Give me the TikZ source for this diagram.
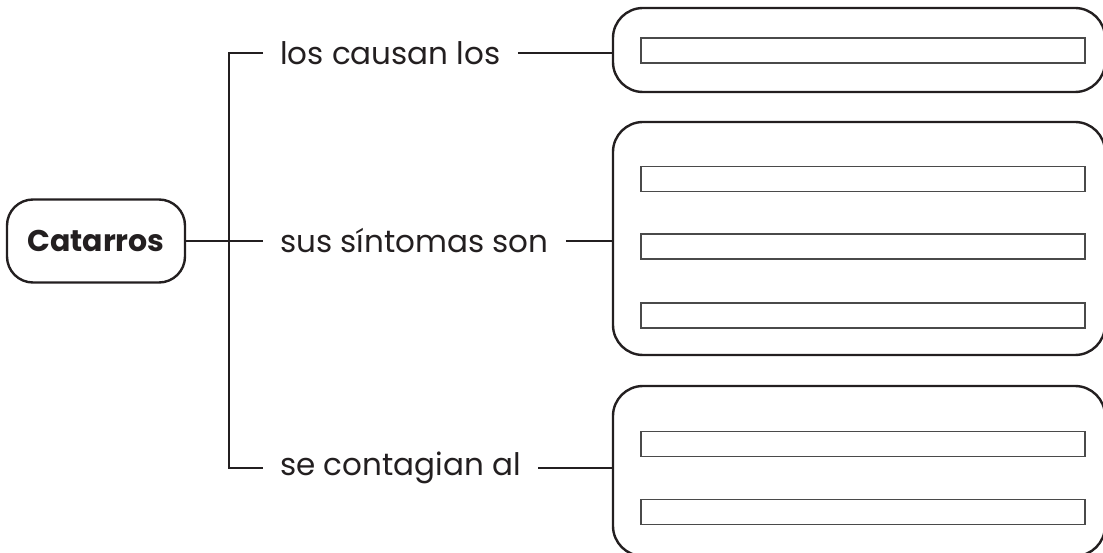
\documentclass[tikz,border=0pt]{standalone}
\usepackage{fontspec}
\setmainfont{Poppins}
\usetikzlibrary{positioning}
\definecolor{ink}{HTML}{231F20}
\definecolor{pencil}{HTML}{4A4A4A}
\tikzset{
	topic/.style={draw=ink, line width=2.4pt, rounded corners=26pt, minimum width=178pt, minimum height=83pt, font=\fontsize{30}{34}\selectfont\bfseries, text=ink},
	cue/.style={anchor=west, inner xsep=17pt, font=\fontsize{31}{36}\selectfont, text=ink},
	answer/.style={draw=ink, line width=2.4pt, rounded corners=30pt, minimum width=492pt},
	blank/.style={draw=pencil, line width=1.3pt, minimum width=444pt, minimum height=25pt},
	link/.style={draw=ink, line width=1.3pt}
}

\begin{document}
\begin{tikzpicture}[x=1pt, y=-1pt]
		\useasboundingbox (0,0) rectangle (1103,553);
		
		\node[topic] (cat) at (96,241) {Catarros};
		
		\coordinate (t) at (229,53);
		\coordinate (m) at (229,241);
		\coordinate (b) at (229,468);
		
		\node[cue] (1) at (263,53) {los causan los};
		\node[cue] (2) at (263,241) {sus síntomas son};
		\node[cue] (3) at (263,468) {se contagian al};
		
		\node[answer, minimum height=84pt] (a1) at (859,50) {};
		\node[answer, minimum height=233pt] (a2) at (859,238.5) {};
		\node[answer, minimum height=170pt] (a3) at (859,471) {};
		
		\node[blank] (b1) at (863,50.5) {};
		\node[blank] (b2) at (863,179) {};
		\node[blank] (b3) at (863,246.5) {};
		\node[blank] (b4) at (863,315.5) {};
		\node[blank] (b5) at (863,444) {};
		\node[blank] (b6) at (863,512) {};
		
		\draw[link] (1.west) -- (t) -- (b) -- (3.west);
		\draw[link] (cat.east) -- (2.west);
		\draw[link] (1.east) -- (1.east -| a1.west);
		\draw[link] (2.east) -- (2.east -| a2.west);
		\draw[link] (3.east) -- (3.east -| a3.west);
\end{tikzpicture}
\end{document}
